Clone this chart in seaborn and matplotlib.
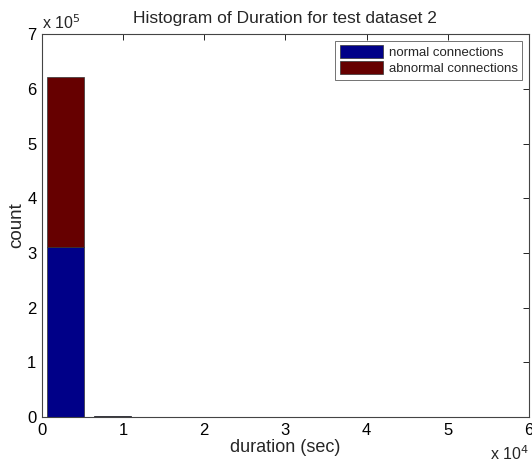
import numpy as np
import pandas as pd
import matplotlib
matplotlib.use("Agg")
import matplotlib.pyplot as plt
from matplotlib.ticker import FuncFormatter, MultipleLocator
from matplotlib.patches import Patch
import seaborn as sns

# data: 10 histogram bins of duration (sec)
bin_width = 5800
n_bins = 10
normal_counts = [311000, 1500, 700, 500, 200, 300, 200, 100, 100, 100]
abnormal_counts = [311000, 300, 100, 100, 50, 50, 50, 20, 20, 20]
series_names = ["normal connections", "abnormal connections"]
colors = ["#000088", "#660000"]

centers = (np.arange(n_bins) + 0.5) * bin_width
df = pd.DataFrame({
    "duration": np.concatenate([centers, centers]),
    "count": normal_counts + abnormal_counts,
    "type": [series_names[0]] * n_bins + [series_names[1]] * n_bins,
})

sns.set_style("white")
plt.rcParams["font.family"] = ["Liberation Sans", "DejaVu Sans"]

fig = plt.figure(figsize=(5.32, 4.61), dpi=100)
ax = fig.add_axes([0.079, 0.0954, 0.915, 0.8306])

# seaborn puts the first hue level on top of the stack
sns.histplot(data=df, x="duration", weights="count", hue="type",
             hue_order=series_names[::-1], multiple="stack", binwidth=bin_width,
             binrange=(0, n_bins * bin_width),
             shrink=0.8, palette=dict(zip(series_names, colors)), alpha=1,
             edgecolor="#333333", linewidth=0.5, ax=ax, legend=False)

ax.set_xlim(0, 60000)
ax.set_ylim(0, 700000)
ax.xaxis.set_major_locator(MultipleLocator(10000))
ax.yaxis.set_major_locator(MultipleLocator(100000))
ax.xaxis.set_major_formatter(FuncFormatter(lambda v, p: f"{v/1e4:g}"))
ax.yaxis.set_major_formatter(FuncFormatter(lambda v, p: f"{v/1e5:g}"))
ax.tick_params(direction="in", top=True, right=True, length=4, width=0.6,
               labelsize=12, colors="black", pad=4)
for s in ax.spines.values():
    s.set_visible(True)
    s.set_color("#444444")
    s.set_linewidth(0.8)

ax.set_title("Histogram of Duration for test dataset 2", fontsize=12.5, pad=8)
ax.set_xlabel("duration (sec)", fontsize=13, labelpad=1)
ax.set_ylabel("count", fontsize=13.5, labelpad=1)

ax.text(0.0, 1.005, r"x 10$^5$", transform=ax.transAxes, fontsize=11.5,
        ha="left", va="bottom")
ax.text(1.0, -0.07, r"x 10$^4$", transform=ax.transAxes, fontsize=11.5,
        ha="right", va="top")

handles = [Patch(facecolor=c, edgecolor="#333333", linewidth=0.5) for c in colors]
leg = ax.legend(handles, series_names, loc="upper right", fontsize=9.5,
                frameon=True, fancybox=False, edgecolor="#333333",
                handlelength=3.3, handleheight=1.1, handletextpad=0.4,
                borderaxespad=0.5, labelspacing=0.15, borderpad=0.35)
leg.get_frame().set_linewidth(0.6)

fig.savefig("out.png", dpi=100)
